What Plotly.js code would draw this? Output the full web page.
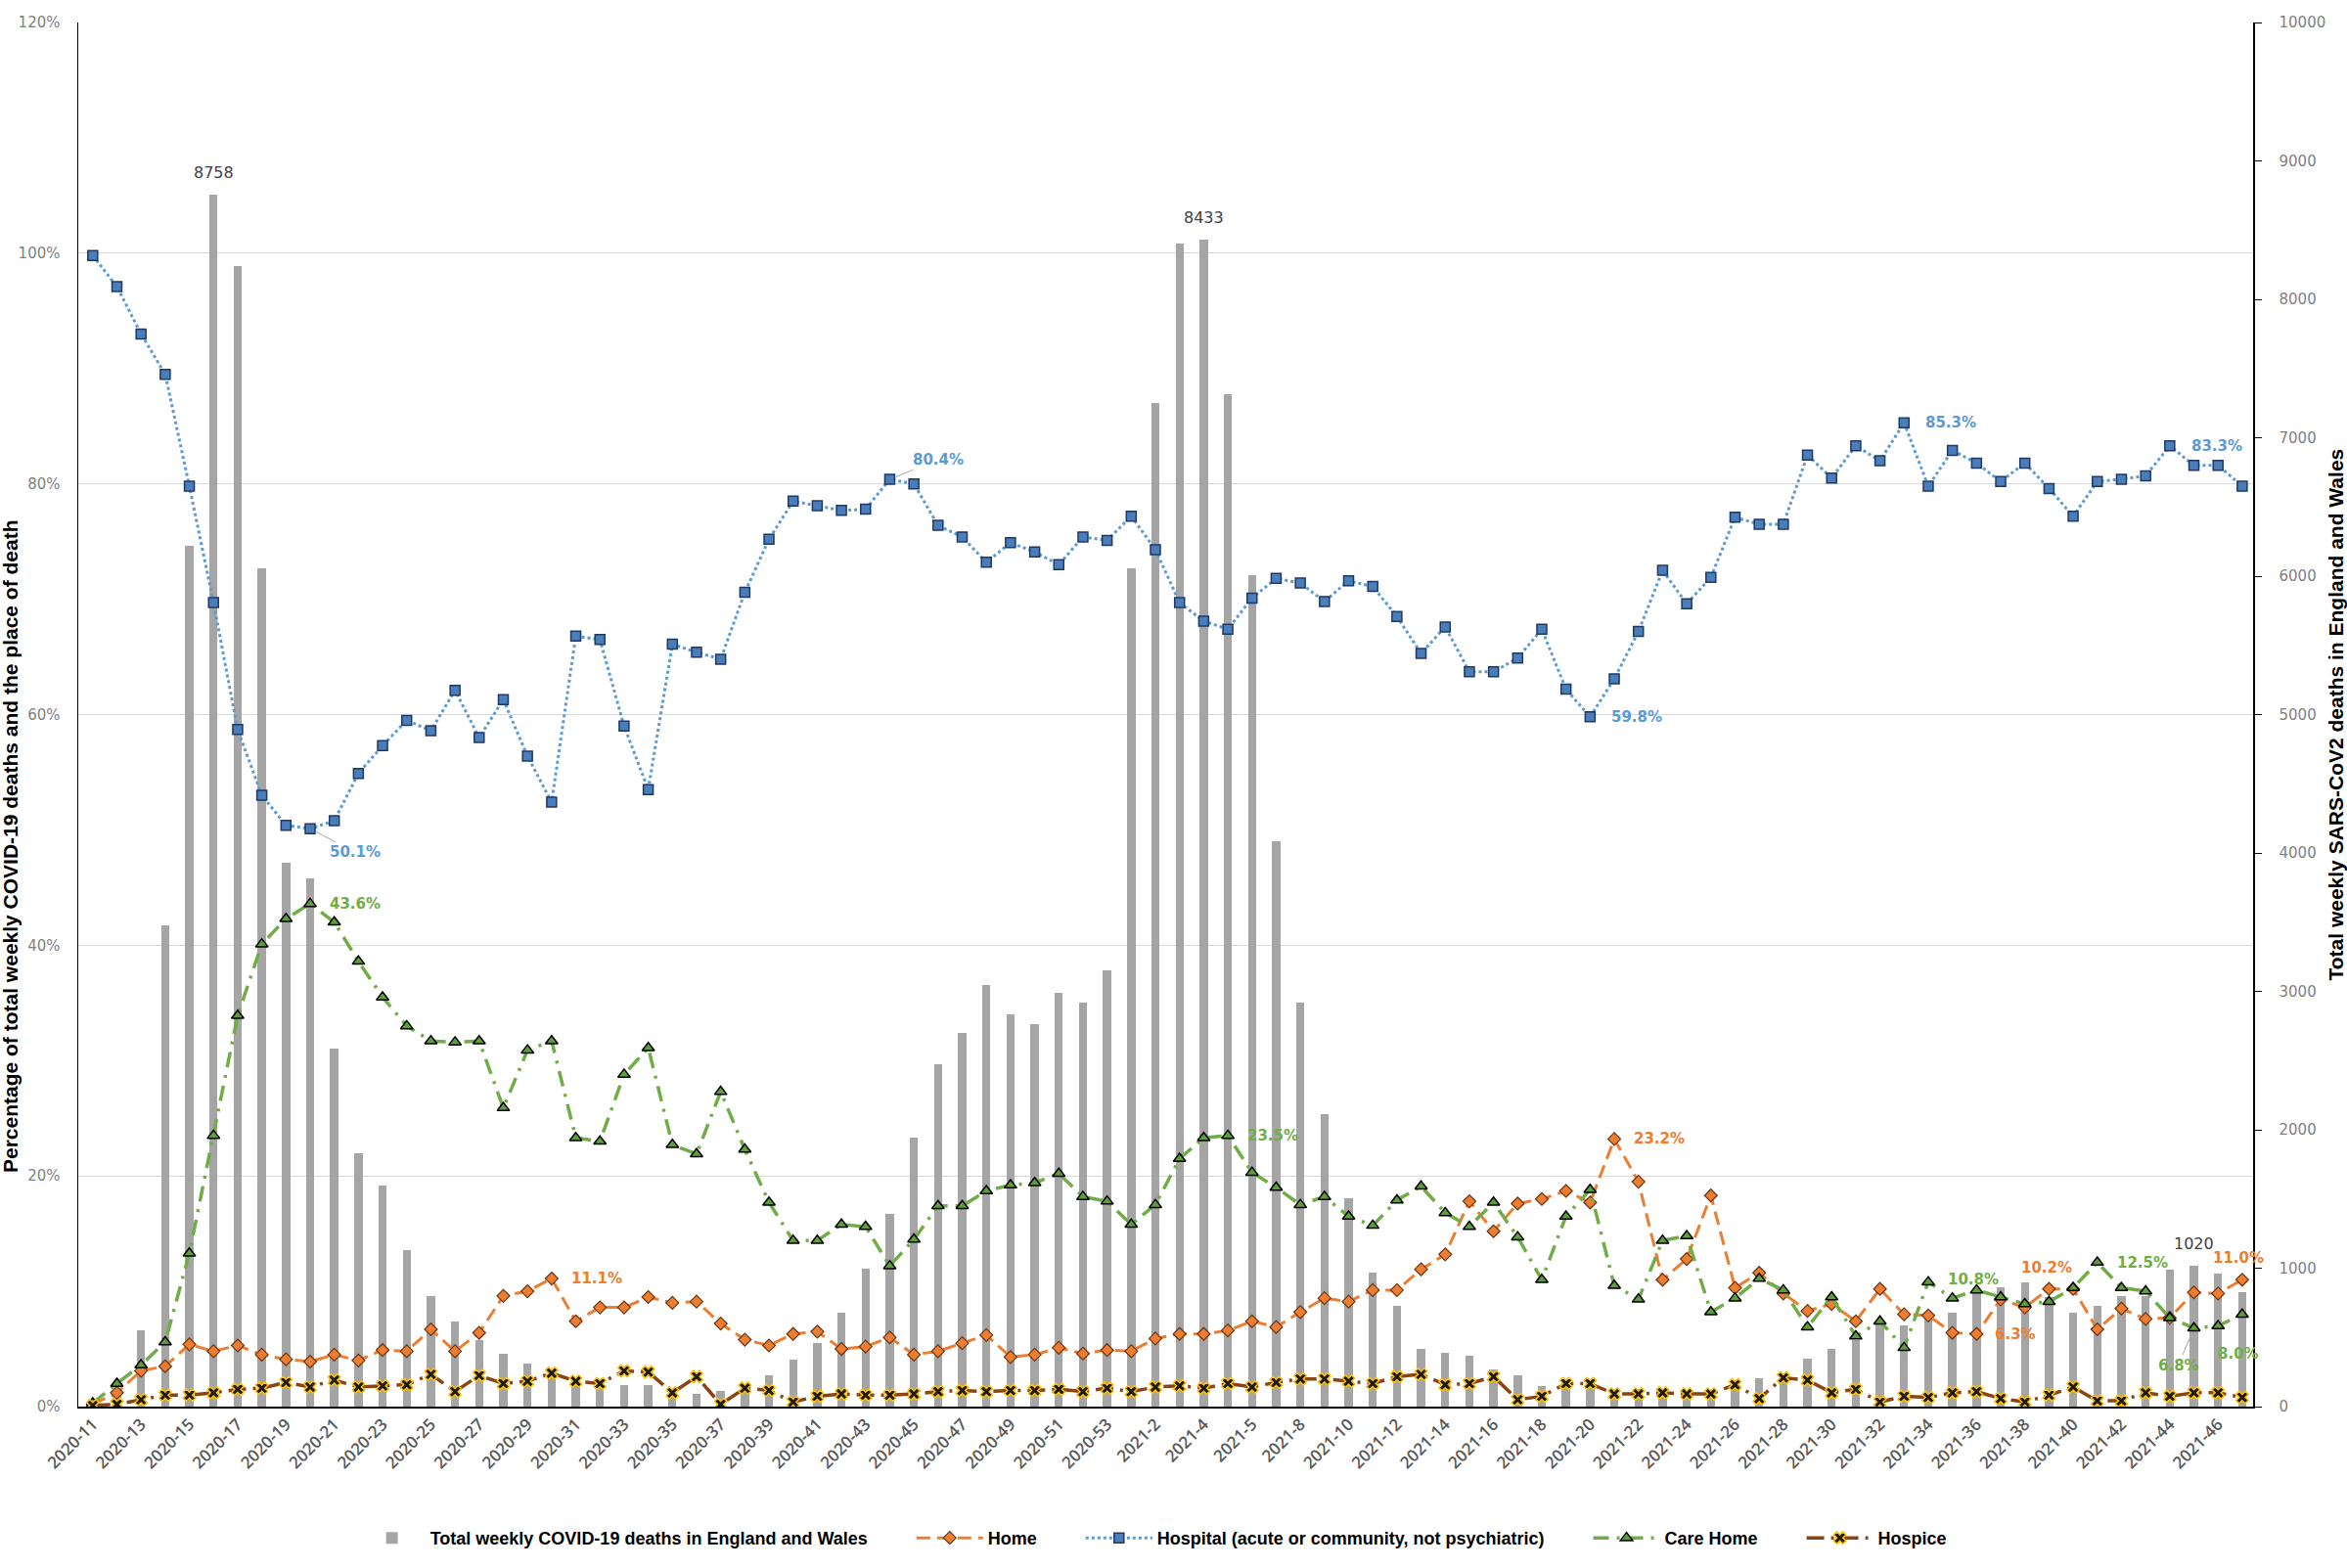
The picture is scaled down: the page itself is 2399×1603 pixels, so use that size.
<!DOCTYPE html>
<html><head><meta charset="utf-8">
<script src="https://cdn.plot.ly/plotly-3.0.1.min.js"></script>
<style>html,body{margin:0;padding:0;background:#fff}#chart{width:2399px;height:1603px}</style>
</head><body><div id="chart"></div>
<script>
// ---- data ----
const weeks = [
 '2020-11','2020-12','2020-13','2020-14','2020-15','2020-16','2020-17','2020-18','2020-19','2020-20',
 '2020-21','2020-22','2020-23','2020-24','2020-25','2020-26','2020-27','2020-28','2020-29','2020-30',
 '2020-31','2020-32','2020-33','2020-34','2020-35','2020-36','2020-37','2020-38','2020-39','2020-40',
 '2020-41','2020-42','2020-43','2020-44','2020-45','2020-46','2020-47','2020-48','2020-49','2020-50',
 '2020-51','2020-52','2020-53','2021-1','2021-2','2021-3','2021-4','2021-5','2021-5','2021-7',
 '2021-8','2021-9','2021-10','2021-11','2021-12','2021-13','2021-14','2021-15','2021-16','2021-17',
 '2021-18','2021-19','2021-20','2021-21','2021-22','2021-23','2021-24','2021-25','2021-26','2021-27',
 '2021-28','2021-29','2021-30','2021-31','2021-32','2021-33','2021-34','2021-35','2021-36','2021-37',
 '2021-38','2021-39','2021-40','2021-41','2021-42','2021-43','2021-44','2021-45','2021-46','2021-47'
];
const totalDeaths = [
 5,103,550,3476,6216,8758,8242,6056,3927,3817,
 2589,1828,1594,1132,796,613,478,384,309,269,
 183,183,156,156,100,94,116,156,228,339,
 457,680,997,1392,1941,2473,2701,3046,2836,2763,
 2992,2919,3153,6056,7250,8400,8433,7316,6010,4086,
 2919,2110,1508,970,726,417,392,371,269,223,
 148,183,169,129,129,116,116,116,148,202,
 237,349,419,478,613,586,645,680,849,863,
 895,793,680,728,796,801,990,1020,962,828
];
const home = [
 0.2,1.2,3.1,3.5,5.4,4.8,5.3,4.5,4.1,3.9,
 4.5,4.0,4.9,4.8,6.7,4.8,6.4,9.6,10.0,11.1,
 7.4,8.6,8.6,9.5,9.0,9.1,7.2,5.8,5.3,6.3,
 6.5,5.0,5.2,6.0,4.5,4.8,5.5,6.2,4.3,4.5,
 5.1,4.6,4.9,4.8,5.9,6.3,6.3,6.6,7.4,6.9,
 8.2,9.4,9.1,10.1,10.1,11.9,13.2,17.8,15.2,17.6,
 18.0,18.7,17.7,23.2,19.5,11.0,12.8,18.3,10.3,11.6,
 9.8,8.3,8.9,7.4,10.2,8.0,7.9,6.4,6.3,9.3,
 8.6,10.2,10.2,6.7,8.5,7.6,7.7,9.9,9.8,11.0
];
const hospital = [
 99.8,97.1,93.0,89.5,79.8,69.7,58.7,53.0,50.4,50.1,
 50.8,54.9,57.3,59.5,58.6,62.1,58.0,61.3,56.4,52.4,
 66.8,66.5,59.0,53.5,66.1,65.4,64.8,70.6,75.2,78.5,
 78.1,77.7,77.8,80.4,80.0,76.4,75.4,73.2,74.9,74.1,
 73.0,75.4,75.1,77.2,74.3,69.7,68.1,67.4,70.1,71.8,
 71.4,69.8,71.6,71.1,68.5,65.3,67.6,63.7,63.7,64.9,
 67.4,62.2,59.8,63.1,67.2,72.5,69.6,71.9,77.1,76.5,
 76.5,82.5,80.5,83.3,82.0,85.3,79.8,82.9,81.8,80.2,
 81.8,79.6,77.2,80.2,80.4,80.7,83.3,81.6,81.6,79.8
];
const careHome = [
 0.3,2.0,3.6,5.6,13.3,23.5,33.9,40.1,42.3,43.6,
 42.0,38.6,35.5,33.0,31.7,31.6,31.7,25.9,30.9,31.7,
 23.3,23.0,28.8,31.1,22.7,21.9,27.3,22.3,17.7,14.4,
 14.4,15.8,15.6,12.2,14.5,17.4,17.4,18.7,19.2,19.4,
 20.2,18.2,17.8,15.8,17.5,21.5,23.3,23.5,20.3,19.0,
 17.5,18.2,16.5,15.7,17.9,19.1,16.8,15.6,17.7,14.7,
 11.0,16.5,18.8,10.5,9.3,14.4,14.8,8.2,9.4,11.1,
 10.1,6.9,9.5,6.1,7.4,5.1,10.8,9.4,10.1,9.5,
 8.9,9.1,10.3,12.5,10.3,10.0,7.7,6.8,7.0,8.0
];
const hospice = [
 0.1,0.2,0.6,1.0,1.0,1.2,1.5,1.6,2.1,1.7,
 2.3,1.7,1.8,1.9,2.8,1.3,2.7,2.0,2.2,2.9,
 2.2,2.0,3.1,3.0,1.2,2.6,0.2,1.6,1.4,0.4,
 0.9,1.1,1.0,1.0,1.1,1.3,1.4,1.3,1.4,1.4,
 1.5,1.3,1.6,1.3,1.7,1.8,1.6,2.0,1.7,2.1,
 2.4,2.4,2.2,2.0,2.6,2.8,1.9,2.0,2.6,0.6,
 0.9,2.0,2.0,1.1,1.1,1.2,1.1,1.1,1.9,0.7,
 2.5,2.3,1.2,1.5,0.4,0.9,0.8,1.2,1.3,0.7,
 0.4,1.0,1.7,0.5,0.5,1.2,0.9,1.2,1.2,0.8
];
const seriesNames = ['Total weekly COVID-19 deaths in England and Wales', 'Home',
  'Hospital (acute or community, not psychiatric)', 'Care Home', 'Hospice'];
// labelled points (indices into the arrays above)
const barLabelIdx = [5, 46, 87];
const homeLabelIdx = [19, 63, 78, 81, 89];
const hospitalLabelIdx = [9, 33, 62, 75, 86];
const careLabelIdx = [9, 47, 76, 83, 87, 89];

// ---- styling / drawing ----
const idx = weeks.map((_, i) => i);
const tickIdx = idx.filter(i => i % 2 === 0);
const tickText = tickIdx.map(i => weeks[i]);
const pad = '\u00a0'.repeat(8);

const C = {home:'#ED7D31', hosp:'#5B9BD5', care:'#70AD47', hospice:'#8B4513', bar:'#A5A5A5'};

const traces = [
 {type:'bar', name:seriesNames[0] + pad, x:idx, y:totalDeaths,
  yaxis:'y', width:0.34, marker:{color:C.bar}},
 {type:'scatter', mode:'lines+markers', name:seriesNames[1] + pad, x:idx, y:home, yaxis:'y2',
  line:{color:C.home, width:3, dash:'14px,7px'},
  marker:{symbol:'diamond', size:10, color:C.home, line:{color:'#6b3510', width:1.2}}},
 {type:'scatter', mode:'lines+markers', name:seriesNames[2] + pad, x:idx, y:hospital, yaxis:'y2',
  line:{color:C.hosp, width:3, dash:'dot'},
  marker:{symbol:'square', size:10, color:'#4A7EBB', line:{color:'#1F3864', width:1.5}}},
 {type:'scatter', mode:'lines+markers', name:seriesNames[3] + pad, x:idx, y:careHome, yaxis:'y2',
  line:{color:C.care, width:3.5, dash:'16px,8px,3px,8px'},
  marker:{symbol:'triangle-up', size:11, color:'#5E9E3A', line:{color:'#000', width:1.5}}},
 {type:'scatter', mode:'lines+markers', name:seriesNames[4], x:idx, y:hospice, yaxis:'y2',
  line:{color:C.hospice, width:3.5, dash:'18px,7px,3px,7px'},
  marker:{symbol:'x', size:11, color:'#1a1a1a', line:{color:'#FFC000', width:1.5}}}
];

const ann = [];
const lblFont = (c) => ({family:'DejaVu Sans', size:15, color:c, weight:'bold'});
barLabelIdx.forEach(i => ann.push({x:i, y:totalDeaths[i], xref:'x', yref:'y', text:String(totalDeaths[i]),
  showarrow:false, yshift:22, font:{family:'DejaVu Sans', size:16, color:'#404040'}}));
const hospOff = {9:[46,24,true], 33:[50,-20,true], 62:[48,0,false], 75:[48,0,false], 86:[48,0,false]};
hospitalLabelIdx.forEach(i => { const o = hospOff[i];
  ann.push(o[2] ? {x:i, y:hospital[i], xref:'x', yref:'y2', text:hospital[i].toFixed(1)+'%', showarrow:true,
     arrowhead:0, arrowwidth:1, arrowcolor:'#a6a6a6', ax:o[0], ay:o[1], standoff:7, font:lblFont(C.hosp)}
   : {x:i, y:hospital[i], xref:'x', yref:'y2', text:hospital[i].toFixed(1)+'%', showarrow:false, xshift:o[0], yshift:-o[1], font:lblFont(C.hosp)}); });
const careOff = {9:[46,0,false], 47:[46,0,false], 76:[46,-3,false], 83:[46,0,false], 87:[-16,38,true], 89:[-4,40,false]};
careLabelIdx.forEach(i => { const o = careOff[i];
  ann.push(o[2] ? {x:i, y:careHome[i], xref:'x', yref:'y2', text:careHome[i].toFixed(1)+'%', showarrow:true,
     arrowhead:0, arrowwidth:1, arrowcolor:'#a6a6a6', ax:o[0], ay:o[1], standoff:7, font:lblFont(C.care)}
   : {x:i, y:careHome[i], xref:'x', yref:'y2', text:careHome[i].toFixed(1)+'%', showarrow:false, xshift:o[0], yshift:-o[1], font:lblFont(C.care)}); });
const homeOff = {19:[46,0], 63:[46,0], 78:[40,0], 81:[-2,-22], 89:[-4,-22]};
homeLabelIdx.forEach(i => { const o = homeOff[i];
  ann.push({x:i, y:home[i], xref:'x', yref:'y2', text:home[i].toFixed(1)+'%', showarrow:false, xshift:o[0], yshift:-o[1], font:lblFont(C.home)}); });

// axis titles
ann.push({xref:'paper', yref:'paper', x:-0.031, y:0.405, xanchor:'center', yanchor:'middle', textangle:-90, showarrow:false,
  text:'Percentage of total weekly COVID-19 deaths and the place of death',
  font:{family:'Liberation Sans Narrow, Liberation Sans', size:21, color:'#000', weight:'bold'}});
ann.push({xref:'paper', yref:'paper', x:1.0378, y:0.5, xanchor:'center', yanchor:'middle', textangle:-90, showarrow:false,
  text:'Total weekly SARS-CoV2 deaths in England and Wales',
  font:{family:'Liberation Sans Narrow, Liberation Sans', size:21, color:'#000', weight:'bold'}});

const tickFontY = {family:'DejaVu Sans', size:15, color:'#7f7f7f'};
const layout = {
  width:2399, height:1603, margin:{l:80, r:96, t:23, b:160}, paper_bgcolor:'#fff', plot_bgcolor:'#fff',
  showlegend:true, bargap:0,
  legend:{orientation:'h', x:0.494, xanchor:'center', y:-0.095, yanchor:'middle',
    font:{family:'Liberation Sans Narrow, Liberation Sans', size:18, color:'#000', weight:'bold'}, itemwidth:68},
  xaxis:{range:[-0.6, 89.45], tickmode:'array', tickvals:tickIdx, ticktext:tickText, tickangle:-45,
    showline:true, linecolor:'#000', linewidth:1.5, showgrid:false, zeroline:false, ticks:'',
    tickfont:{family:'Open Sans', size:17, color:'#595959', weight:600}},
  yaxis:{range:[0,10000], dtick:1000, tickformat:'d', side:'right', showgrid:false, showline:true, linecolor:'#000', linewidth:1.5,
    ticks:'outside', ticklen:7, tickcolor:'#000', tickfont:tickFontY, zeroline:false, ticklabelstandoff:15},
  yaxis2:{range:[0,120], dtick:20, ticksuffix:'%', overlaying:'y', side:'left', showgrid:true, gridcolor:'#d9d9d9',
    showline:true, linecolor:'#000', linewidth:1.5, ticks:'', tickfont:tickFontY, zeroline:false, ticklabelstandoff:14},
  annotations:ann
};
Plotly.newPlot('chart', traces, layout, {displayModeBar:false, staticPlot:true});
</script>
</body></html>
